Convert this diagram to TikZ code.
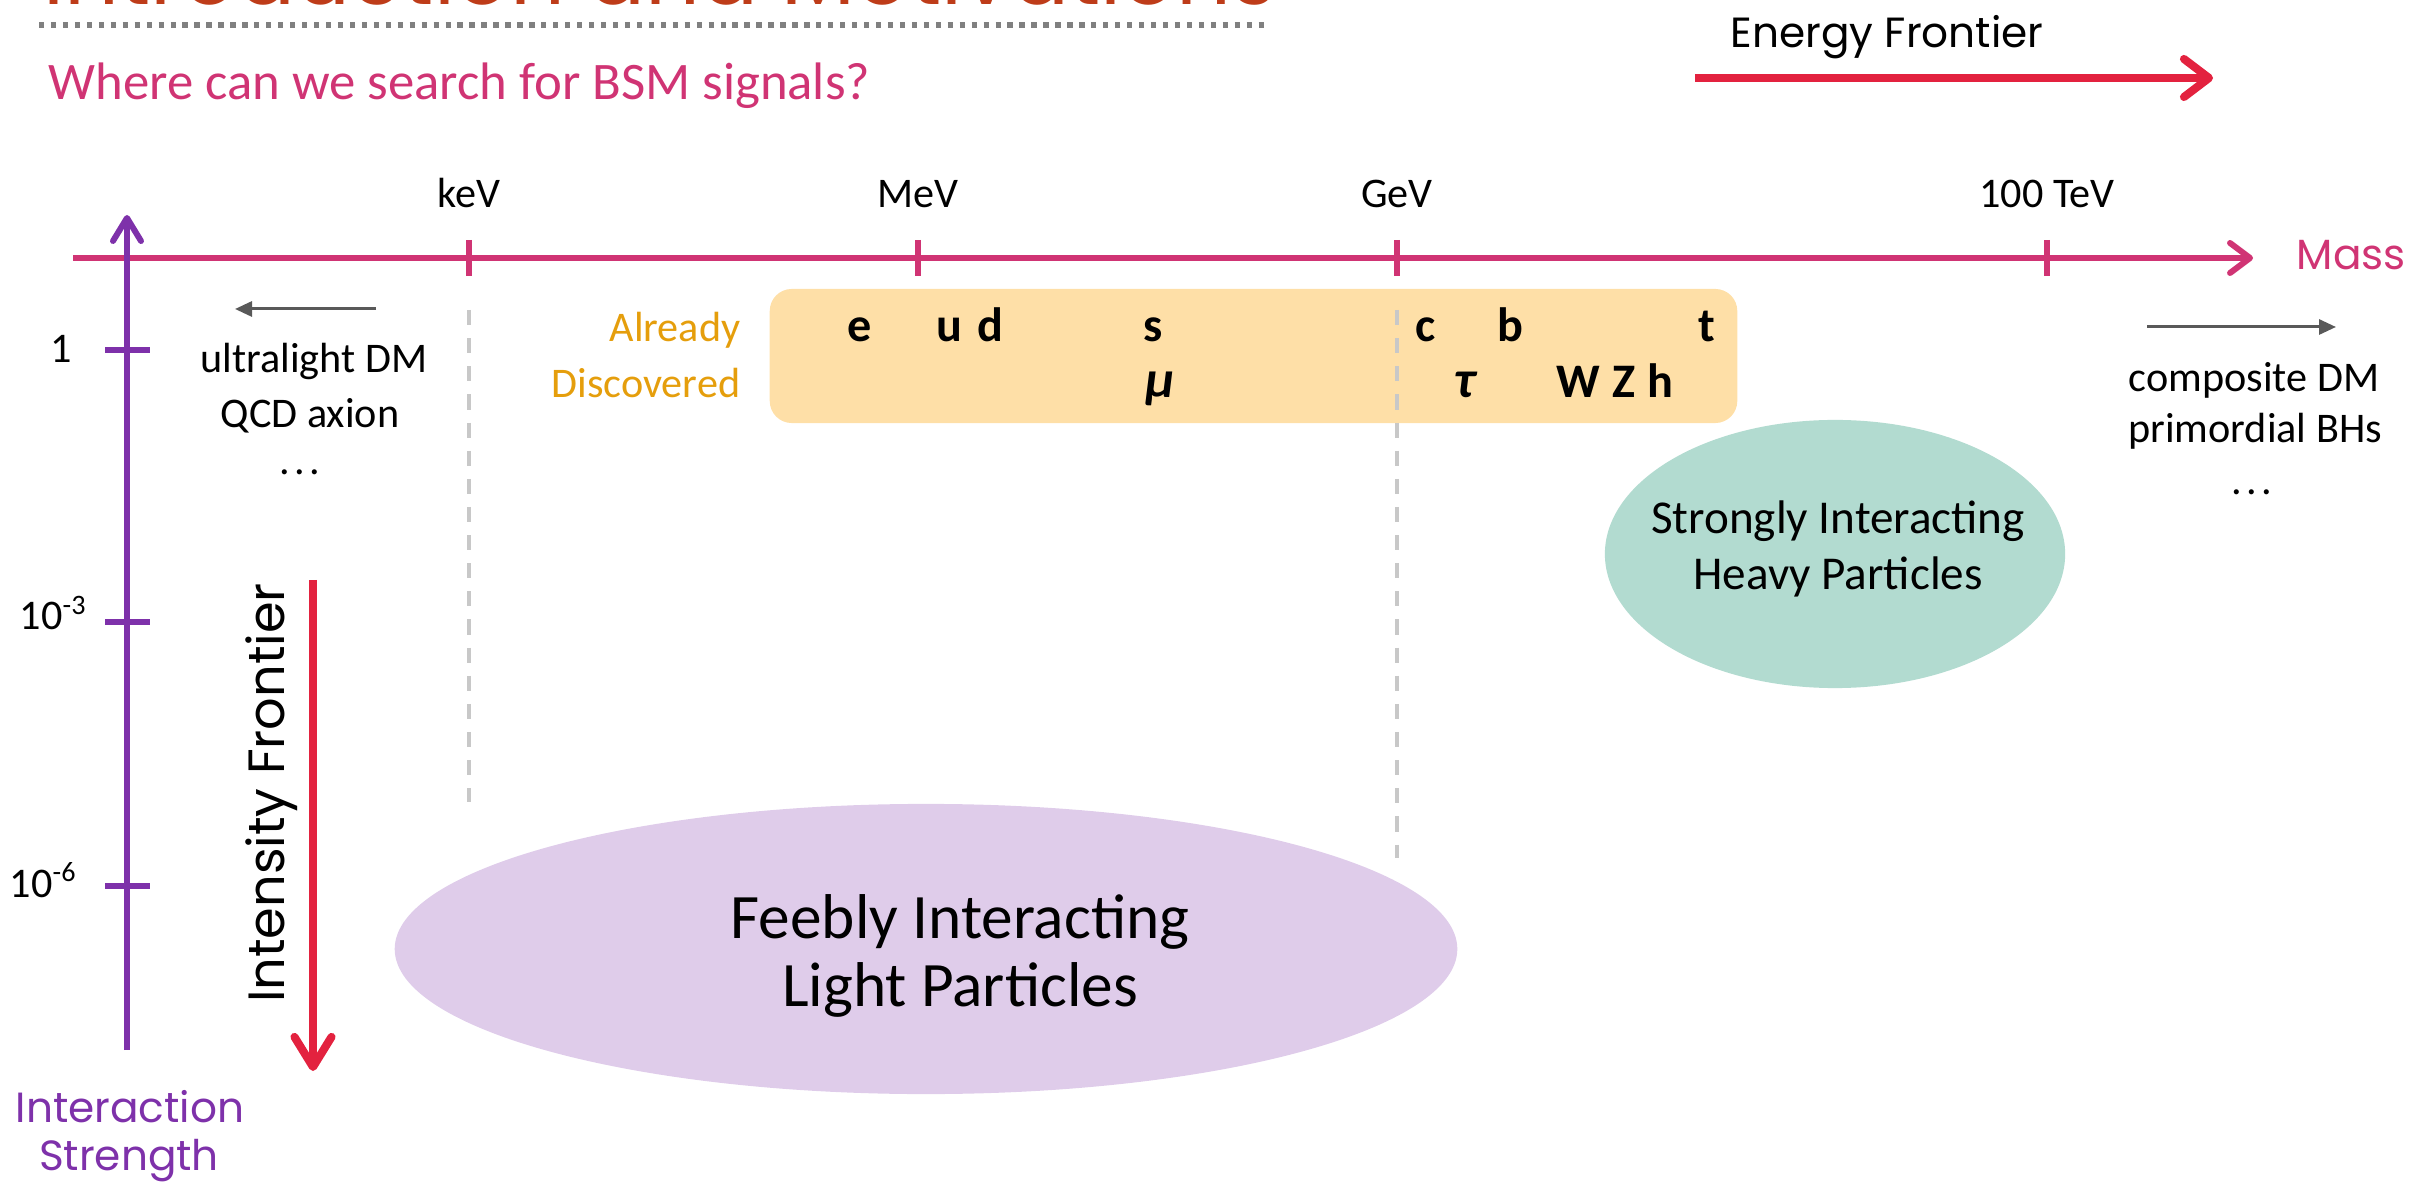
\documentclass[tikz,border=0pt]{standalone}
\usepackage{fontspec}
\setmainfont{Carlito}
\newfontfamily\comicfont{Poppins}
\usetikzlibrary{arrows.meta,shapes.geometric}

\definecolor{massc}{RGB}{208,52,116}
\definecolor{strengthc}{RGB}{126,49,170}
\definecolor{frontierc}{RGB}{227,34,63}
\definecolor{knownc}{RGB}{229,158,12}
\definecolor{knownfill}{RGB}{254,223,167}
\definecolor{strongfill}{RGB}{178,219,208}
\definecolor{feeblefill}{RGB}{223,204,234}
\definecolor{guidec}{RGB}{200,200,200}
\definecolor{hintc}{RGB}{89,89,89}
\definecolor{titlec}{RGB}{190,60,25}
\definecolor{rulec}{RGB}{128,128,128}

\tikzset{
  massaxis/.style={draw=massc, line width=1.7pt},
  strengthaxis/.style={draw=strengthc, line width=1.7pt},
  frontier/.style={draw=frontierc, line width=2.3pt},
  guide/.style={draw=guidec, line width=1.1pt, dash pattern=on 4.3pt off 3.7pt},
  hint/.style={draw=hintc, line width=0.85pt, -{Triangle[length=1.7mm,width=1.5mm]}},
  txt/.style={inner sep=0pt, font=\fontsize{12}{14.4}\selectfont},
  particle/.style={inner sep=0pt, anchor=base, font=\fontsize{13.7}{16}\selectfont\bfseries},
  comic/.style={inner sep=0pt, font=\comicfont\fontsize{12}{14.4}\selectfont},
  region/.style={ellipse, inner sep=0pt},
}

\newcommand{\dotrow}{.\kern0.1em.\kern0.1em.}

\begin{document}
\begin{tikzpicture}[x=0.01cm, y=-0.01cm]
\useasboundingbox (0,0) rectangle (2410,1192);
\clip (0,0) rectangle (2410,1192);

% heading and question
\node[inner sep=0pt, anchor=base west, text=titlec,
      font=\comicfont\fontsize{24.4}{28}\selectfont] (heading) at (43,5) {Introduction and Motivations};
\coordinate (ruleL) at (39,25);
\coordinate (ruleR) at (1270,25);
\draw[rulec, line width=1.6pt, dash pattern=on 1.5pt off 1.9pt] (ruleL) -- (ruleR);
\node[inner sep=0pt, anchor=base west, text=massc,
      font=\fontsize{15}{18}\selectfont] (question) at (48,100) {Where can we search for BSM signals?};

% energy frontier
\node[comic, anchor=base] (energyLab) at (1887,48) {Energy Frontier};
\coordinate (energyL) at (1695,78);
\coordinate (energyR) at (2213,78);
\draw[frontier, -{Straight Barb[length=2.5mm,width=3.8mm,line cap=round,line join=round]}] (energyL) -- (energyR);

% regions (drawn first, underneath)
\node[region, fill=strongfill, minimum width=4.6cm, minimum height=2.68cm] (strong) at (1835,554) {};
\node[txt, align=center, font=\fontsize{13.4}{16.2}\selectfont, anchor=base] (strongText) at (1838,590)
  {Strongly Interacting\\Heavy Particles};

\node[fill=knownfill, rounded corners=0.22cm, minimum width=9.67cm, minimum height=1.34cm, inner sep=0pt] (known) at (1253.5,356) {};

\node[region, fill=feeblefill, minimum width=10.62cm, minimum height=2.9cm] (feeble) at (926,949) {};
\node[txt, align=center, font=\fontsize{18}{19.5}\selectfont] (feebleText) at (960,956)
  {Feebly Interacting\\Light Particles};

% dashed guides at keV and GeV
\coordinate (guideKtop) at (469,310);
\coordinate (guideKbot) at (469,802);
\coordinate (guideGtop) at (1397,310);
\coordinate (guideGbot) at (1397,858);
\draw[guide] (guideKtop) -- (guideKbot);
\draw[guide] (guideGtop) -- (guideGbot);

% mass axis
\coordinate (massL) at (73,258);
\coordinate (massR) at (2253,258);
\draw[massaxis, -{Straight Barb[length=2mm,width=3mm,line cap=round,line join=round]}] (massL) -- (massR);
\node[comic, anchor=base west, text=massc] (massLab) at (2296,270) {Mass};
\foreach \nm/\xx/\lab in {keV/469/keV, MeV/918/MeV, GeV/1397/GeV, TeV/2047/100 TeV} {
  \coordinate (\nm-top) at (\xx,240);
  \coordinate (\nm-bot) at (\xx,276);
  \draw[massaxis] (\nm-top) -- (\nm-bot);
  \node[txt, anchor=base] (\nm-lab) at (\xx,208) {\lab};
}

% interaction strength axis
\coordinate (strBot) at (127,1050);
\coordinate (strTop) at (127,215);
\draw[strengthaxis, -{Straight Barb[length=2.3mm,width=2.8mm,line cap=round,line join=round]}] (strBot) -- (strTop);
\foreach \nm/\yy in {one/350, milli/622, micro/886} {
  \coordinate (\nm-l) at (105,\yy);
  \coordinate (\nm-r) at (150,\yy);
  \draw[strengthaxis] (\nm-l) -- (\nm-r);
}
\node[txt, anchor=base east] (oneLab) at (73,363) {1};
\node[txt, anchor=base east] (milliLab) at (88,630) {10\textsuperscript{-3}};
\node[txt, anchor=base east] (microLab) at (78,897) {10\textsuperscript{-6}};
\node[comic, anchor=base, text=strengthc] (strLab1) at (130,1122) {Interaction};
\node[comic, anchor=base, text=strengthc] (strLab2) at (129,1170) {Strength};

% intensity frontier
\node[comic, rotate=90, anchor=base, font=\comicfont\fontsize{14.5}{17}\selectfont] (intensityLab) at (284,793) {Intensity Frontier};
\coordinate (intTop) at (313,580);
\coordinate (intBot) at (313,1071);
\draw[frontier, -{Straight Barb[length=3mm,width=3.7mm,line cap=round,line join=round]}] (intTop) -- (intBot);

% lighter than keV
\coordinate (lightTail) at (376,309);
\coordinate (lightTip) at (235,309);
\draw[hint] (lightTail) -- (lightTip);
\node[txt, anchor=base] (light1) at (314,373) {ultralight DM};
\node[txt, anchor=base] (light2) at (310,428) {QCD axion};
\node[txt, anchor=base] (light3) at (300,475) {\dotrow};

% heavier than 100 TeV
\coordinate (heavyTail) at (2147,327);
\coordinate (heavyTip) at (2336,327);
\draw[hint] (heavyTail) -- (heavyTip);
\node[txt, anchor=base] (heavy1) at (2254,392) {composite DM};
\node[txt, anchor=base] (heavy2) at (2255,443) {primordial BHs};
\node[txt, anchor=base] (heavy3) at (2252,495) {\dotrow};

% already discovered particles
\node[txt, anchor=base east, text=knownc] (known1) at (741,342) {Already};
\node[txt, anchor=base east, text=knownc] (known2) at (741,398) {Discovered};
\node[particle] (pe) at (860,342) {e};
\node[particle] (pu) at (949,342) {u};
\node[particle] (pd) at (990,342) {d};
\node[particle] (ps) at (1153,342) {s};
\node[particle] (pc) at (1426,342) {c};
\node[particle] (pb) at (1510,342) {b};
\node[particle] (pt) at (1707,342) {t};
\node[particle, font=\fontsize{15}{17}\selectfont\bfseries] (pmu) at (1160,398) {\itshape μ};
\node[particle, font=\fontsize{15}{17}\selectfont\bfseries] (ptau) at (1465,398) {\itshape τ};
\node[particle] (pW) at (1578,398) {W};
\node[particle] (pZ) at (1624,398) {Z};
\node[particle] (ph) at (1660,398) {h};
\end{tikzpicture}
\end{document}
